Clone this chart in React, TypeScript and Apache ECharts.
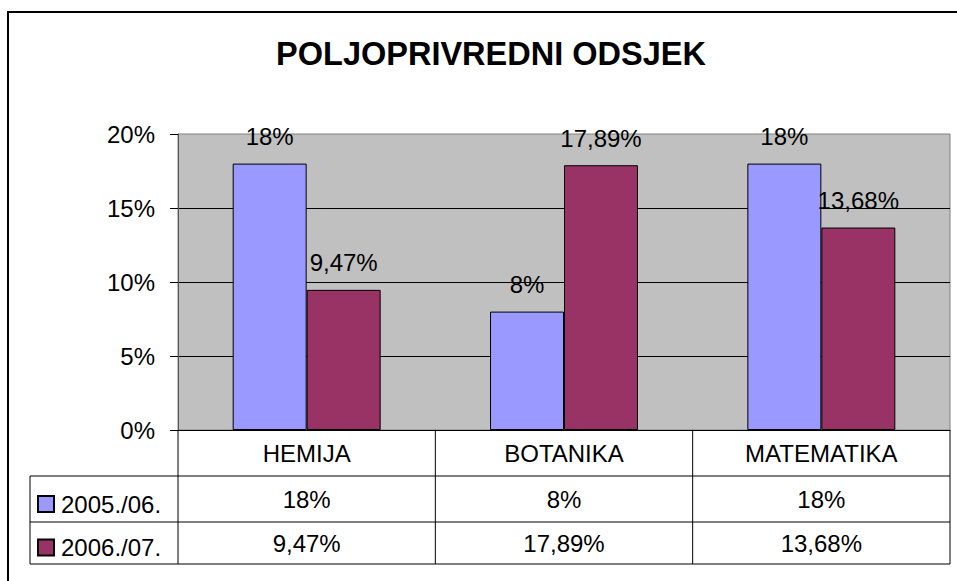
import React, { useEffect, useRef } from "react";
import * as echarts from "echarts";

const title = "POLJOPRIVREDNI ODSJEK";
const categories = ["HEMIJA", "BOTANIKA", "MATEMATIKA"];
const seriesNames = ["2005./06.", "2006./07."];
const values2005 = [18, 8, 18];
const values2006 = [9.47, 17.89, 13.68];
const seriesValues = [values2005, values2006];
const seriesColors = ["#9999FF", "#993366"];
const yMin = 0;
const yMax = 20;
const yInterval = 5;

const W = 957;
const H = 581;
const FONT = "'Liberation Sans', Arial, sans-serif";
const GRID = { left: 178, right: 7, top: 134, bottom: 151 };
const ROW_H = [46, 46, 42];
const TABLE_LEFT = 30;

const fmt = (v: number) => String(v).replace(".", ",") + "%";

export default function App() {
  const ref = useRef<HTMLDivElement>(null);
  useEffect(() => {
    document.body.style.margin = "0";
    const chart = echarts.init(ref.current!, null, { renderer: "svg" });

    const plotRight = W - GRID.right;
    const axisY = H - GRID.bottom;
    const catW = (plotRight - GRID.left) / categories.length;
    const rowYs = [axisY];
    ROW_H.forEach((h, i) => rowYs.push(rowYs[i] + h));
    const tableBottom = rowYs[rowYs.length - 1];

    const lineStyle = { stroke: "#000", lineWidth: 1 };
    const graphics: any[] = [
      {
        type: "rect",
        shape: { x: 8, y: 12, width: 2000, height: 2000 },
        style: { fill: "none", stroke: "#000", lineWidth: 2 },
        silent: true,
      },
    ];
    for (let i = 1; i < rowYs.length; i++) {
      graphics.push({
        type: "line",
        shape: { x1: TABLE_LEFT, y1: rowYs[i], x2: plotRight, y2: rowYs[i] },
        style: lineStyle,
      });
    }
    for (let c = 0; c <= categories.length; c++) {
      const x = GRID.left + c * catW;
      graphics.push({
        type: "line",
        shape: { x1: x, y1: axisY, x2: x, y2: tableBottom },
        style: lineStyle,
      });
    }
    graphics.push({
      type: "line",
      shape: { x1: TABLE_LEFT, y1: rowYs[1], x2: TABLE_LEFT, y2: tableBottom },
      style: lineStyle,
    });

    chart.setOption({
      animation: false,
      backgroundColor: "#fff",
      title: {
        text: title,
        left: 486,
        top: 32,
        textAlign: "center",
        textStyle: { fontFamily: FONT, fontSize: 32.5, fontWeight: "bold", color: "#000" },
      },
      legend: {
        orient: "vertical",
        left: 37,
        top: rowYs[1] + 16,
        padding: 0,
        itemWidth: 16,
        itemHeight: 16,
        itemGap: 19.5,
        icon: "rect",
        data: seriesNames,
        textStyle: { fontFamily: FONT, fontSize: 24, lineHeight: 24, color: "#000", padding: [0, 0, 0, 2] },
      },
      grid: {
        left: GRID.left,
        right: GRID.right,
        top: GRID.top,
        bottom: GRID.bottom,
        show: true,
        backgroundColor: "#C0C0C0",
        borderColor: "#808080",
        borderWidth: 1,
      },
      xAxis: {
        type: "category",
        data: categories,
        axisLine: { show: true, lineStyle: { color: "#000", width: 1 } },
        axisTick: { show: false },
        axisLabel: {
          interval: 0,
          margin: 0,
          verticalAlign: "top",
          formatter: (value: string, idx: number) =>
            `{a|${value}}\n{b|${fmt(values2005[idx])}}\n{c|${fmt(values2006[idx])}}`,
          rich: {
            a: { fontFamily: FONT, fontSize: 24, lineHeight: ROW_H[0], color: "#000" },
            b: { fontFamily: FONT, fontSize: 24, lineHeight: ROW_H[1], color: "#000" },
            c: { fontFamily: FONT, fontSize: 24, lineHeight: ROW_H[2], color: "#000" },
          },
        },
      },
      yAxis: {
        type: "value",
        min: yMin,
        max: yMax,
        interval: yInterval,
        axisLine: { show: true, lineStyle: { color: "#555", width: 1 } },
        axisTick: { show: true, inside: false, length: 8, lineStyle: { color: "#000" } },
        splitLine: { show: true, showMinLine: false, showMaxLine: false, lineStyle: { color: "#000", width: 1 } },
        axisLabel: {
          margin: 23,
          formatter: (v: number) => fmt(v),
          fontFamily: FONT,
          fontSize: 24,
          color: "#000",
        },
      },
      series: seriesNames.map((name, s) => ({
        name,
        type: "bar",
        data: seriesValues[s],
        barGap: "0%",
        barCategoryGap: "42.5%",
        itemStyle: { color: seriesColors[s], borderColor: "#000", borderWidth: 1 },
        label: {
          show: true,
          position: "top",
          distance: 15,
          formatter: (p: any) => fmt(p.value),
          fontFamily: FONT,
          fontSize: 24,
          color: "#000",
        },
      })),
      graphic: graphics,
    });
    return () => chart.dispose();
  }, []);
  return <div ref={ref} style={{ width: W, height: H }} />;
}
